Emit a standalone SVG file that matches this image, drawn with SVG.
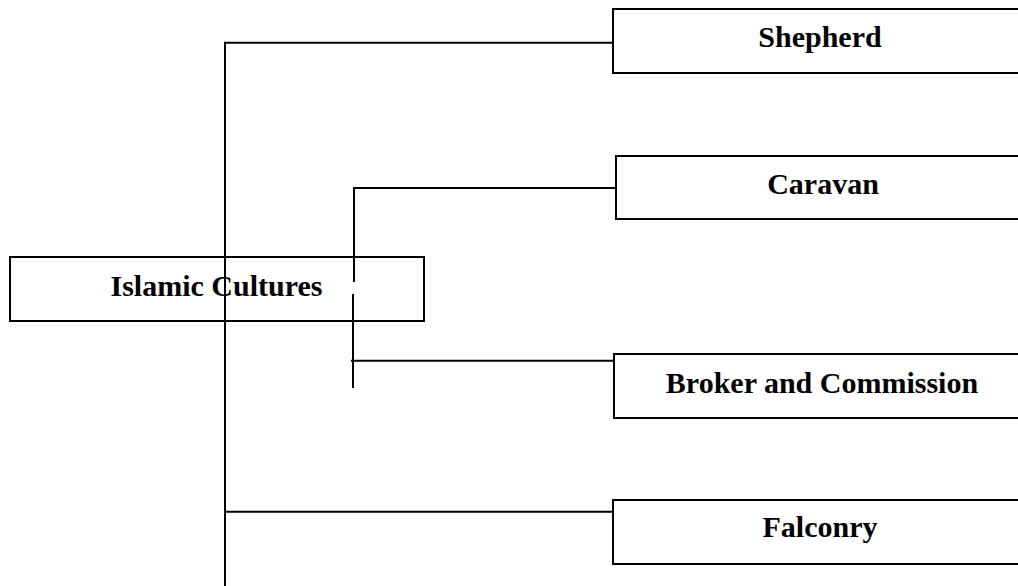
<svg xmlns="http://www.w3.org/2000/svg" width="1018" height="586" viewBox="0 0 1018 586">
<style>
.box{fill:none;stroke:#000;stroke-width:2}
.lbl{font-family:"Liberation Serif","Times New Roman",serif;font-weight:bold;font-size:30px;fill:#000;text-anchor:middle}
.con{fill:none;stroke:#000;stroke-width:2}
</style>
<rect width="1018" height="586" fill="#fff"/>
<g id="connectors">
<path class="con" d="M613,42.7 H225 V586"/>
<path class="con" d="M225,511.7 H613"/>
<path class="con" d="M616,188 H354 V282"/>
<path class="con" d="M353,294 V388"/>
<path class="con" d="M351,360.7 H614"/>
</g>
<g id="islamic">
<rect class="box" x="10" y="257" width="414" height="64"/>
<text class="lbl" x="216.5" y="296">Islamic Cultures</text>
</g>
<g id="shepherd">
<rect class="box" x="613" y="9" width="420" height="64"/>
<text class="lbl" x="820" y="47">Shepherd</text>
</g>
<g id="caravan">
<rect class="box" x="616" y="156" width="420" height="63"/>
<text class="lbl" x="823" y="193.5">Caravan</text>
</g>
<g id="broker">
<rect class="box" x="614" y="354" width="420" height="64"/>
<text class="lbl" x="822" y="392.5">Broker and Commission</text>
</g>
<g id="falconry">
<rect class="box" x="613" y="500" width="420" height="64"/>
<text class="lbl" x="820" y="537">Falconry</text>
</g>
</svg>
